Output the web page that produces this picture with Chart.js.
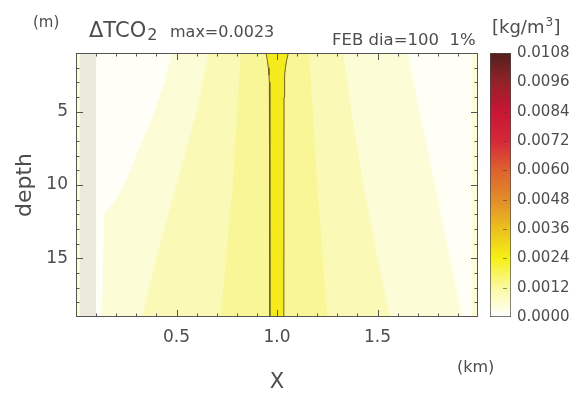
<!DOCTYPE html>
<html><head><meta charset="utf-8">
<script src="https://cdn.jsdelivr.net/npm/chart.js@4.4.1/dist/chart.umd.min.js"></script>
<style>
html,body{margin:0;padding:0;background:#fff;}
#wrap{position:relative;width:582px;height:397px;overflow:hidden;}
#main{position:absolute;left:0;top:0;}
#cbar{position:absolute;left:480px;top:0;}
</style></head><body>
<div id="wrap"><canvas id="main" width="582" height="397"></canvas><canvas id="cbar" width="102" height="397"></canvas></div>
<script>
// ---------- data ----------
const xRange = [0, 2];                 // X (km)
const depthRange = [1, 19];            // depth (m)
const xTickLabels = [0.5, 1.0, 1.5];
const depthTickLabels = [5, 10, 15];
const colorbarTicks = [0.0000, 0.0012, 0.0024, 0.0036, 0.0048, 0.0060, 0.0072, 0.0084, 0.0096, 0.0108];
const fieldMax = 0.0023;

// filled-contour regions: depth rows with left / right x boundaries (km)
const baseDepths = [1, 19];
const baseLeft   = [0, 0];
const baseRight  = [2, 2];

const stripDepths = [1, 19];
const stripLeft   = [0.02, 0.02];
const stripRight  = [0.10, 0.10];

const lowLeftDepths = [1, 3, 5, 7, 9, 10.3, 11.3, 12, 19];
const lowLeftLeft   = [0.10, 0.10, 0.10, 0.10, 0.10, 0.10, 0.10, 0.10, 0.10];
const lowLeftRight  = [0.48, 0.44, 0.39, 0.33, 0.27, 0.23, 0.18, 0.14, 0.13];

const lowRightDepths = [1, 3, 5, 7, 9, 11, 13, 15, 17, 19];
const lowRightLeft   = [1.65, 1.68, 1.71, 1.74, 1.77, 1.80, 1.83, 1.86, 1.89, 1.92];
const lowRightRight  = [1.97, 1.97, 1.97, 1.97, 1.97, 1.97, 1.97, 1.97, 1.97, 1.97];

const midDepths = [1, 5, 10, 15, 19];
const midLeft   = [0.66, 0.60, 0.50, 0.40, 0.33];
const midRight  = [1.33, 1.37, 1.43, 1.50, 1.56];

const highDepths = [1, 10, 19];
const highLeft   = [0.82, 0.78, 0.72];
const highRight  = [1.16, 1.20, 1.25];

const coreDepths = [1, 1.5, 2, 2.5, 3, 4, 19];
const coreLeft   = [0.945, 0.952, 0.957, 0.960, 0.962, 0.964, 0.965];
const coreRight  = [1.056, 1.048, 1.042, 1.039, 1.037, 1.035, 1.034];

// ---------- build polygons ----------
function polygon(depths, left, right) {
  const pts = [];
  for (let i = 0; i < depths.length; i++) pts.push({x: left[i], y: depths[i]});
  for (let i = depths.length - 1; i >= 0; i--) pts.push({x: right[i], y: depths[i]});
  return pts;
}
function region(depths, left, right, color, order, border) {
  return {
    data: polygon(depths, left, right),
    showLine: true, fill: 'shape', backgroundColor: color,
    borderColor: border || 'rgba(0,0,0,0)', borderWidth: border ? 1 : 0,
    pointRadius: 0, tension: 0, order: order
  };
}

const FONT = 'DejaVu Sans';
const TXT = '#4d4d4d';

const frameTicks = {
  id: 'frameTicks',
  afterDatasetsDraw(chart) {
    const {ctx, chartArea: a, scales: {x, y}} = chart;
    ctx.save();
    ctx.strokeStyle = '#555'; ctx.lineWidth = 1;
    ctx.strokeRect(a.left + 0.5, a.top + 0.5, a.right - a.left - 1, a.bottom - a.top - 1);
    ctx.beginPath();
    for (let k = 1; k < 20; k++) {
      const v = k / 10;
      const px = Math.round(x.getPixelForValue(v)) + 0.5;
      const len = (k % 5 === 0) ? 7 : 3.5;
      ctx.moveTo(px, a.bottom); ctx.lineTo(px, a.bottom - len);
      ctx.moveTo(px, a.top); ctx.lineTo(px, a.top + len);
    }
    for (let d = 2; d < 19; d++) {
      const py = Math.round(y.getPixelForValue(d)) + 0.5;
      const len = (d % 5 === 0) ? 7 : 3.5;
      ctx.moveTo(a.left, py); ctx.lineTo(a.left + len, py);
      ctx.moveTo(a.right, py); ctx.lineTo(a.right - len, py);
    }
    ctx.stroke();
    ctx.restore();
  },
  afterDraw(chart) {
    const ctx = chart.ctx;
    ctx.save();
    ctx.fillStyle = TXT;
    ctx.textBaseline = 'alphabetic';
    ctx.textAlign = 'left';
    ctx.font = '15px "' + FONT + '"';
    ctx.fillText('(m)', 33, 27);
    ctx.font = '21px "' + FONT + '"';
    ctx.fillText('\u0394TCO', 89, 37);
    const wT = ctx.measureText('\u0394TCO').width;
    ctx.font = '16px "' + FONT + '"';
    ctx.fillText('2', 89 + wT + 1, 40);
    ctx.fillText('max=' + fieldMax.toFixed(4), 170, 37);
    ctx.font = '16.5px "' + FONT + '"';
    ctx.fillText('FEB dia=100  1%', 332, 45);
    ctx.font = '18px "' + FONT + '"';
    ctx.fillText('[kg/m', 492, 33);
    const w1 = ctx.measureText('[kg/m').width;
    ctx.font = '12px "' + FONT + '"';
    ctx.fillText('3', 492 + w1 + 1, 26);
    ctx.font = '18px "' + FONT + '"';
    ctx.fillText(']', 492 + w1 + 9, 33);
    ctx.font = '16px "' + FONT + '"';
    ctx.fillText('(km)', 457, 372);
    ctx.restore();
  }
};

new Chart(document.getElementById('main'), {
  type: 'scatter',
  data: {
    datasets: [
      region(baseDepths, baseLeft, baseRight, 'rgb(252,252,214)', 7),
      region(stripDepths, stripLeft, stripRight, 'rgb(236,234,221)', 6),
      region(lowLeftDepths, lowLeftLeft, lowLeftRight, 'rgb(255,255,247)', 5),
      region(lowRightDepths, lowRightLeft, lowRightRight, 'rgb(255,255,245)', 4),
      region(midDepths, midLeft, midRight, 'rgb(250,249,182)', 3),
      region(highDepths, highLeft, highRight, 'rgb(249,246,152)', 2),
      region(coreDepths, coreLeft, coreRight, 'rgb(245,234,28)', 1, 'rgb(110,100,30)')
    ]
  },
  options: {
    responsive: false, animation: false, devicePixelRatio: 1,
    layout: {padding: {left: 0, top: 53, right: 104, bottom: 0}},
    plugins: {legend: {display: false}, tooltip: {enabled: false}},
    scales: {
      x: {
        type: 'linear', min: xRange[0], max: xRange[1],
        afterBuildTicks: s => { s.ticks = xTickLabels.map(v => ({value: v})); },
        afterFit: s => { s.height = 80; },
        grid: {display: false, drawTicks: false}, border: {display: false},
        ticks: {padding: 10, color: TXT, autoSkip: false, maxRotation: 0,
                font: {family: FONT, size: 17}, callback: v => Number(v).toFixed(1)},
        title: {display: true, text: 'X', color: TXT, font: {family: FONT, size: 21}, padding: {top: 0, bottom: 2}}
      },
      y: {
        type: 'linear', reverse: true, min: depthRange[0], max: depthRange[1],
        afterBuildTicks: s => { s.ticks = depthTickLabels.map(v => ({value: v})); },
        afterFit: s => { s.width = 76; },
        grid: {display: false, drawTicks: false}, border: {display: false},
        ticks: {padding: 8, color: TXT, autoSkip: false, font: {family: FONT, size: 17}, callback: v => String(v)},
        title: {display: true, text: 'depth', color: TXT, font: {family: FONT, size: 22}, padding: {top: 12, bottom: 0}}
      }
    }
  },
  plugins: [frameTicks]
});

// ---------- colour bar ----------
const cbStops = [
  [0.0000, 'rgb(255,255,255)'],
  [0.0012, 'rgb(250,249,160)'],
  [0.0024, 'rgb(247,240,20)'],
  [0.0036, 'rgb(236,192,30)'],
  [0.0048, 'rgb(226,140,42)'],
  [0.0060, 'rgb(222,98,46)'],
  [0.0072, 'rgb(214,40,58)'],
  [0.0084, 'rgb(200,22,52)'],
  [0.0096, 'rgb(148,34,40)'],
  [0.0108, 'rgb(82,32,30)']
];
const cbTickMarks = {
  id: 'cbTickMarks',
  afterDatasetsDraw(chart) {
    const {ctx, chartArea: a, scales: {y}} = chart;
    ctx.save();
    ctx.strokeStyle = 'rgba(70,60,40,0.55)'; ctx.lineWidth = 1;
    ctx.beginPath();
    colorbarTicks.slice(1, -1).forEach(v => {
      const py = Math.round(y.getPixelForValue(v)) + 0.5;
      ctx.moveTo(a.right - 8, py); ctx.lineTo(a.right - 4, py);
    });
    ctx.stroke();
    ctx.restore();
  }
};
new Chart(document.getElementById('cbar'), {
  type: 'bar',
  data: {
    labels: [''],
    datasets: [{
      data: [[colorbarTicks[0], colorbarTicks[colorbarTicks.length - 1]]],
      backgroundColor: (c) => {
        const ch = c.chart; const a = ch.chartArea;
        if (!a) return 'rgba(0,0,0,0)';
        const g = ch.ctx.createLinearGradient(0, a.bottom, 0, a.top);
        const maxV = colorbarTicks[colorbarTicks.length - 1];
        cbStops.forEach(([v, col]) => g.addColorStop(v / maxV, col));
        return g;
      },
      borderColor: '#4a4a4a', borderWidth: 1, borderSkipped: false,
      barPercentage: 1, categoryPercentage: 1
    }]
  },
  options: {
    responsive: false, animation: false, devicePixelRatio: 1,
    layout: {padding: {left: 10, top: 53, right: 0, bottom: 80}},
    plugins: {legend: {display: false}, tooltip: {enabled: false}},
    scales: {
      x: {display: false},
      y: {
        position: 'right', min: colorbarTicks[0], max: colorbarTicks[colorbarTicks.length - 1],
        afterBuildTicks: s => { s.ticks = colorbarTicks.map(v => ({value: v})); },
        afterFit: s => { s.width = 71; },
        grid: {display: false, drawTicks: false}, border: {display: false},
        ticks: {padding: 6, color: TXT, autoSkip: false, font: {family: FONT, size: 15},
                callback: v => Number(v).toFixed(4)}
      }
    }
  },
  plugins: [cbTickMarks]
});
</script>
</body></html>
